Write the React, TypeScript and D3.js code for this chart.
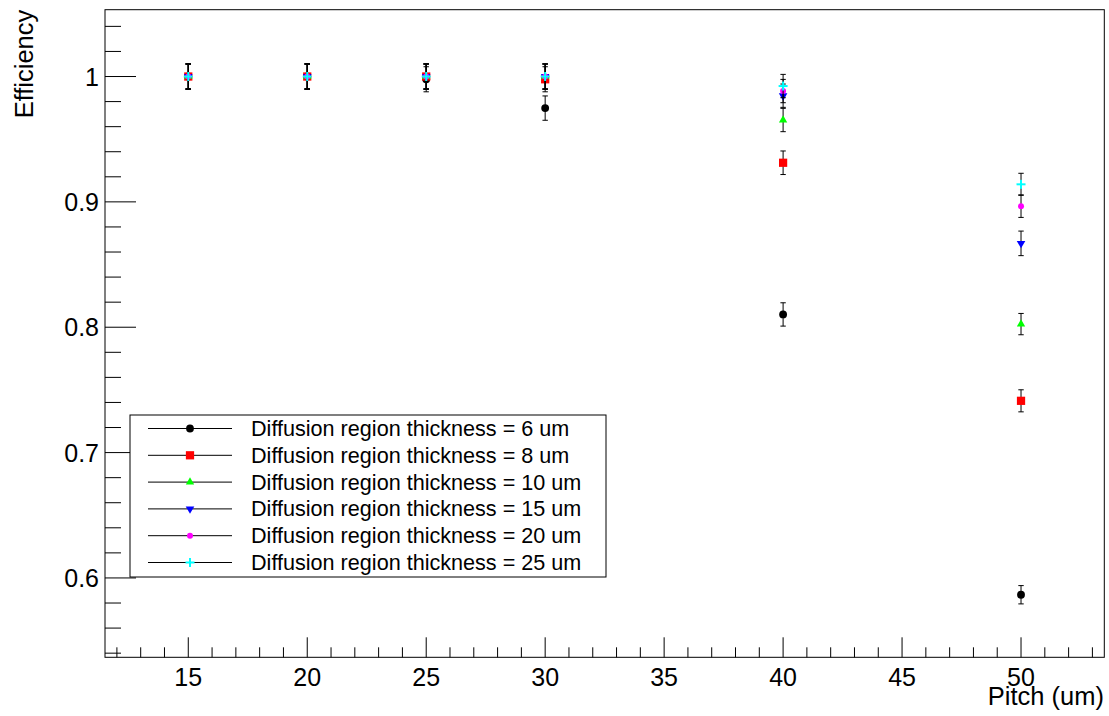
import React from "react";
import * as d3 from "d3";

const pitches = [15, 20, 25, 30, 40, 50];
const thicknessLabels = ["6", "8", "10", "15", "20", "25"];
const eff6 = [1.0, 1.0, 0.9978, 0.9748, 0.8102, 0.5866];
const eff8 = [1.0, 1.0, 1.0, 0.9978, 0.9312, 0.7413];
const eff10 = [1.0, 1.0, 1.0, 1.0, 0.9653, 0.8025];
const eff15 = [1.0, 1.0, 1.0, 1.0, 0.9847, 0.8669];
const eff20 = [1.0, 1.0, 1.0, 1.0, 0.9884, 0.8966];
const eff25 = [1.0, 1.0, 1.0, 1.0, 0.9924, 0.914];
const err6 = [0.01, 0.01, 0.01, 0.0097, 0.0093, 0.0073];
const err8 = [0.01, 0.01, 0.01, 0.01, 0.0094, 0.0088];
const err10 = [0.01, 0.01, 0.01, 0.01, 0.0093, 0.0085];
const err15 = [0.01, 0.01, 0.01, 0.01, 0.0093, 0.0098];
const err20 = [0.01, 0.01, 0.01, 0.01, 0.0093, 0.009];
const err25 = [0.01, 0.01, 0.01, 0.01, 0.0093, 0.0088];
const seriesColors = ["#000000", "#ff0000", "#00ff00", "#0000ff", "#ff00ff", "#00ffff"];
const seriesMarkers = ["circle", "square", "triangleUp", "triangleDown", "dot", "plus"];
const xMajorTicks = [15, 20, 25, 30, 35, 40, 45, 50];
const yMajorTicks = [0.6, 0.7, 0.8, 0.9, 1.0];
const yTickLabels = ["0.6", "0.7", "0.8", "0.9", "1"];

const W = 1109;
const H = 716;
const FL = 105, FR = 1104.3, FT = 9.7, FB = 657.3;
const FONT = "'Liberation Sans', Arial, Helvetica, sans-serif";

const x = d3.scaleLinear().domain([11.5, 53.5]).range([FL, FR]);
const y = d3.scaleLinear().domain([0.5367, 1.0533]).range([FB, FT]);

const effs = [eff6, eff8, eff10, eff15, eff20, eff25];
const errs = [err6, err8, err10, err15, err20, err25];

function Marker({ kind, cx, cy, color }: { kind: string; cx: number; cy: number; color: string }) {
  if (kind === "plus") {
    return (
      <g stroke={color} strokeWidth={2}>
        <line x1={cx - 4.5} x2={cx + 4.5} y1={cy} y2={cy} />
        <line x1={cx} x2={cx} y1={cy - 4.5} y2={cy + 4.5} />
      </g>
    );
  }
  let path = "";
  let rot = 0;
  if (kind === "circle") path = d3.symbol(d3.symbolCircle, 48)() as string;
  else if (kind === "square") path = d3.symbol(d3.symbolSquare, 68)() as string;
  else if (kind === "triangleUp") path = d3.symbol(d3.symbolTriangle, 30)() as string;
  else if (kind === "triangleDown") { path = d3.symbol(d3.symbolTriangle, 32)() as string; rot = 180; }
  else if (kind === "dot") path = d3.symbol(d3.symbolCircle, 28)() as string;
  return <path d={path} fill={color} transform={`translate(${cx},${cy}) rotate(${rot})`} />;
}

export default function App() {
  const xMinor = d3.range(12, 54, 1);
  const yMinor = d3.range(0, 26).map((i) => 0.54 + i * 0.02).filter((v) => v <= 1.053);
  const legendTop = 415, legendBottom = 577, legendLeft = 130, legendRight = 606;
  const rowY = (i: number) => 428.5 + i * 26.8;

  return (
    <svg width={W} height={H} style={{ position: "absolute", left: 0, top: 0, background: "#fff" }} fontFamily={FONT}>
      <rect x={0} y={0} width={W} height={H} fill="#fff" />
      {/* frame */}
      <rect x={FL} y={FT} width={FR - FL} height={FB - FT} fill="none" stroke="#000" strokeWidth={1} />
      {/* x ticks */}
      {xMinor.map((v) => (
        <line key={"xm" + v} x1={x(v)} x2={x(v)} y1={FB} y2={FB - (v % 5 === 0 ? 20 : 10)} stroke="#000" strokeWidth={1} />
      ))}
      {xMajorTicks.map((v) => (
        <text key={"xl" + v} x={x(v)} y={686} fontSize={25} textAnchor="middle" fill="#000">{v}</text>
      ))}
      {/* y ticks */}
      {yMinor.map((v, i) => {
        const major = yMajorTicks.some((t) => Math.abs(t - v) < 1e-6);
        return <line key={"ym" + i} x1={FL} x2={FL + (major ? 31 : 16)} y1={y(v)} y2={y(v)} stroke="#000" strokeWidth={1} />;
      })}
      {yMajorTicks.map((v, i) => (
        <text key={"yl" + i} x={99} y={y(v) + 9} fontSize={25} textAnchor="end" fill="#000">{yTickLabels[i]}</text>
      ))}
      {/* axis titles */}
      <text x={1104} y={705} fontSize={25.5} textAnchor="end" fill="#000">Pitch (um)</text>
      <text transform={`translate(33,${FT}) rotate(-90)`} fontSize={25.5} textAnchor="end" fill="#000">Efficiency</text>
      {/* data */}
      {effs.map((vals, si) => (
        <g key={"s" + si}>
          {vals.map((v, pi) => {
            const cx = x(pitches[pi]);
            const e = errs[si][pi];
            return (
              <g key={pi} stroke="#000" strokeWidth={1}>
                <line x1={cx} x2={cx} y1={y(v - e)} y2={y(v + e)} />
                <line x1={cx - 2.7} x2={cx + 2.7} y1={y(v - e)} y2={y(v - e)} />
                <line x1={cx - 2.7} x2={cx + 2.7} y1={y(v + e)} y2={y(v + e)} />
              </g>
            );
          })}
          {vals.map((v, pi) => (
            <Marker key={"m" + pi} kind={seriesMarkers[si]} cx={x(pitches[pi])} cy={y(v)} color={seriesColors[si]} />
          ))}
        </g>
      ))}
      {/* legend */}
      <rect x={legendLeft} y={legendTop} width={legendRight - legendLeft} height={legendBottom - legendTop} fill="#fff" stroke="#000" strokeWidth={1} />
      {thicknessLabels.map((t, i) => (
        <g key={"lg" + i}>
          <line x1={148} x2={232} y1={rowY(i)} y2={rowY(i)} stroke="#000" strokeWidth={1} />
          <Marker kind={seriesMarkers[i]} cx={190} cy={rowY(i)} color={seriesColors[i]} />
          <text x={251} y={rowY(i) + 7.5} fontSize={21.6} fill="#000">{`Diffusion region thickness = ${t} um`}</text>
        </g>
      ))}
    </svg>
  );
}
